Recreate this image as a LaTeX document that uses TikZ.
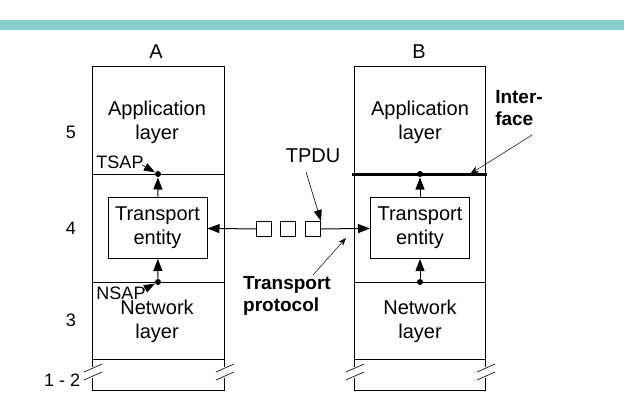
\documentclass[tikz,border=0pt]{standalone}
\usepackage{fontspec}
\setmainfont{Liberation Sans}
\usetikzlibrary{arrows.meta,positioning}
\definecolor{bandteal}{RGB}{140,205,205}
\tikzset{
	x=1pt, y=-1pt,
	every path/.style = {line width=1pt},
	layerbox/.style = {draw},
	entity/.style = {draw, minimum width=99pt, minimum height=61pt, align=center, inner sep=1pt, font=\fontsize{20}{24}\selectfont},
	txt/.style = {align=center, font=\fontsize{20}{24}\selectfont},
	small/.style = {font=\fontsize{18}{22}\selectfont},
	bold/.style = {align=left, font=\fontsize{19}{22}\selectfont\bfseries},
	pdu/.style = {draw, minimum size=15pt, inner sep=0pt},
	sap/.style = {circle, fill, inner sep=0pt, minimum size=6pt},
	tip/.style = {-{Triangle[length=12pt,width=9pt]}},
	pointer/.style = {line width=0.6pt, -{Triangle[length=11pt,width=8pt]}}
}
\begin{document}
\begin{tikzpicture}
	\useasboundingbox (0,0) rectangle (624,413);
	\fill[bandteal] (0,20) rectangle (624,30);
	% host A
	\draw[layerbox] (92,367) -- (92,66) -- (224,66) -- (224,367);
	\draw[layerbox] (92,174) -- (224,174) (92,282) -- (224,282) (92,359) -- (224,359);
	\draw[layerbox] (92,378) -- (92,390) -- (224,390) -- (224,378);
	% host B
	\draw[layerbox] (354,367) -- (354,66) -- (485,66) -- (485,367);
	\draw[layerbox] (354,282) -- (485,282) (354,359) -- (485,359);
	\draw[layerbox] (354,378) -- (354,390) -- (485,390) -- (485,378);
	\draw[line width=3pt] (352,174) -- (487,174);
	% breaks
	\foreach \bx in {92,224,354,485}
		\draw[line width=0.6pt] (\bx-8,372) -- (\bx+10,364) (\bx-8,380) -- (\bx+10,372);
	\node[txt] (hA) at (156,52) {A};
	\node[txt] (hB) at (419,52) {B};
	\node[txt, small] (l5) at (71,132) {5};
	\node[txt, small] (l4) at (71,228) {4};
	\node[txt, small] (l3) at (71,320) {3};
	\node[txt, small, anchor=east] (l12) at (84,380) {1 - 2};
	\node[txt] (appA) at (157,122) {Application\\layer};
	\node[txt] (appB) at (420,122) {Application\\layer};
	\node[txt] (netA) at (157,321) {Network\\layer};
	\node[txt] (netB) at (420,321) {Network\\layer};
	\node[entity] (entA) at (157.5,228) {Transport\\entity};
	\node[entity] (entB) at (420,228) {Transport\\entity};
	\node[sap] (tsapA) at (158,174) {};
	\node[sap] (nsapA) at (158,282) {};
	\node[sap] (tsapB) at (420,174) {};
	\node[sap] (nsapB) at (420,282) {};
	\draw[tip] (entA) -- (tsapA);
	\draw[tip] (nsapA) -- (entA);
	\draw[tip] (entB) -- (tsapB);
	\draw[tip] (nsapB) -- (entB);
	\node[pdu] (p1) at (264,229) {};
	\node[pdu] (p2) at (288,229) {};
	\node[pdu] (p3) at (313,229) {};
	\draw[tip] (p1) -- (entA);
	\draw[tip] (p3) -- (entB);
	\node[txt, small] (tsap) at (120,162) {TSAP};
	\node[txt, small] (nsap) at (121,293) {NSAP};
	\coordinate (tsapTail) at (142,165);
	\coordinate (nsapTail) at (143,290);
	\draw[pointer] (tsapTail) -- (tsapA);
	\draw[pointer] (nsapTail) -- (nsapA);
	\node[txt] (tpdu) at (313,156) {TPDU};
	\coordinate (tpduTail) at (306,172);
	\draw[pointer] (tpduTail) -- (p3.north east);
	\node[bold] (proto) at (287,296) {Transport\\protocol};
	\coordinate (protoTail) at (313,275);
	\draw[line width=0.5pt, -{Stealth[length=8pt]}] (protoTail) -- (346,238);
	\node[bold] (iface) at (519,108) {Inter-\\face};
	\coordinate (ifaceTail) at (532,135);
	\draw[line width=0.5pt, -{Stealth[length=9pt]}] (ifaceTail) -- (470,174);
\end{tikzpicture}
\end{document}
